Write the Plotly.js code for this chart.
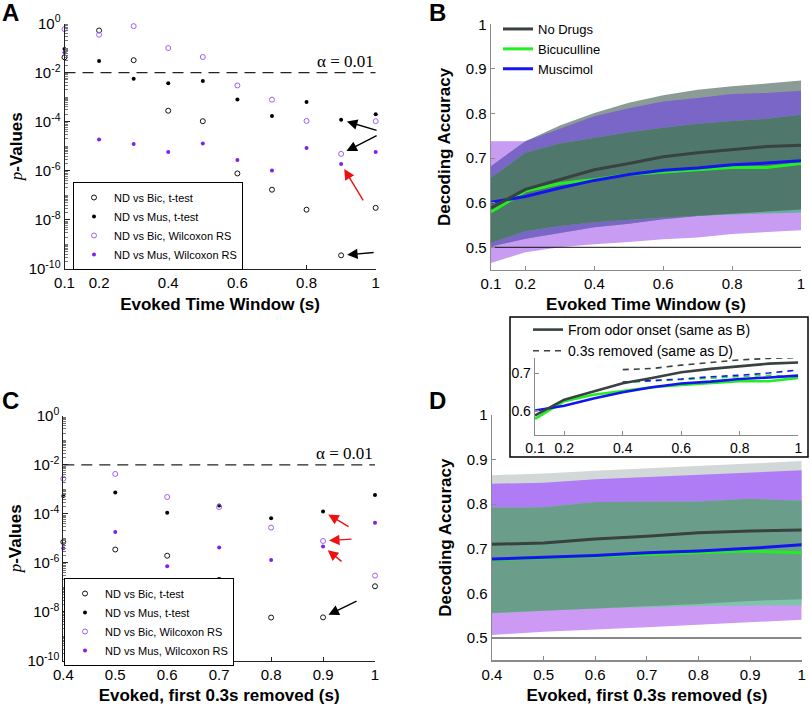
<!DOCTYPE html>
<html><head><meta charset="utf-8">
<script src="https://cdn.plot.ly/plotly-3.0.1.min.js"></script>
<style>html,body{margin:0;padding:0;background:#fff}</style>
</head><body><div id="chart" style="width:810px;height:711px"></div>
<script>
// ---------- Panel A data (p-values) ----------
const xA = [0.1,0.2,0.3,0.4,0.5,0.6,0.7,0.8,0.9,1.0];
const aBicT = [4.2e-2,5.2e-1,3.2e-2,2.8e-4,1.05e-4,7.8e-7,1.7e-7,2.6e-8,3.6e-10,3.1e-8];
const aMusT = [9.1e-2,3.0e-2,5.6e-3,3.7e-3,4.6e-3,8.1e-4,1.7e-4,6.3e-4,1.2e-4,2.0e-4];
const aBicW = [5.9e-1,3.5e-1,7.8e-1,1.0e-1,4.3e-2,3.0e-3,7.9e-4,1.07e-4,4.9e-6,1.05e-4];
const aMusW = [6.6e-2,1.9e-5,1.23e-5,5.9e-6,1.3e-5,2.75e-6,1.02e-6,8.5e-6,1.9e-6,5.9e-6];
// ---------- Panel C data (p-values) ----------
const xC = [0.4,0.5,0.6,0.7,0.8,0.9,1.0];
const cBicT = [7.1e-6,3.5e-6,1.95e-6,2.0e-7,5.8e-9,5.9e-9,1.1e-7];
const cMusT = [5.4e-4,7.4e-4,1.1e-4,2.2e-4,6.6e-5,1.26e-4,5.9e-4];
const cBicW = [2.75e-3,4.3e-3,4.9e-4,1.9e-4,2.75e-5,7.8e-6,3.0e-7];
const cMusW = [3.9e-6,1.8e-5,7.2e-7,4.2e-6,1.3e-6,4.6e-6,4.3e-5];
const alpha = 0.01;
// ---------- Panel B data (decoding accuracy) ----------
const xB = [0.1,0.2,0.3,0.4,0.5,0.6,0.7,0.8,0.9,1.0];
const bND  = [0.588,0.630,0.652,0.674,0.688,0.703,0.712,0.719,0.726,0.729];
const bBic = [0.579,0.626,0.643,0.652,0.663,0.669,0.674,0.679,0.679,0.688];
const bMus = [0.601,0.614,0.633,0.650,0.663,0.673,0.678,0.685,0.689,0.694];
const bNDup  = [0.682,0.738,0.773,0.801,0.824,0.841,0.853,0.861,0.867,0.874];
const bNDlo  = [0.502,0.519,0.532,0.545,0.553,0.563,0.570,0.575,0.580,0.585];
const bBicUp = [0.656,0.712,0.733,0.745,0.758,0.768,0.777,0.783,0.788,0.797];
const bBicLo = [0.510,0.536,0.548,0.556,0.562,0.567,0.571,0.574,0.576,0.578];
const bMusUp = [0.738,0.738,0.766,0.794,0.812,0.827,0.835,0.844,0.846,0.851];
const bMusLo = [0.465,0.489,0.500,0.507,0.512,0.518,0.522,0.530,0.534,0.538];
// ---------- Panel D data ----------
const xD = [0.4,0.5,0.6,0.7,0.8,0.9,1.0];
const dND  = [0.710,0.713,0.722,0.728,0.736,0.740,0.742];
const dBic = [0.676,0.680,0.683,0.687,0.691,0.695,0.691];
const dMus = [0.677,0.681,0.685,0.691,0.695,0.701,0.709];
const dNDup  = [0.865,0.869,0.875,0.880,0.886,0.891,0.897];
const dNDlo  = [0.556,0.562,0.567,0.571,0.576,0.583,0.587];
const dBicUp = [0.792,0.793,0.805,0.805,0.806,0.812,0.808];
const dBicLo = [0.555,0.561,0.566,0.569,0.572,0.573,0.573];
const dMusUp = [0.846,0.848,0.856,0.861,0.865,0.870,0.876];
const dMusLo = [0.507,0.514,0.519,0.524,0.530,0.535,0.541];
const chance = 0.5;

const FONT = 'Liberation Sans, Arial, Helvetica, sans-serif';
const cND = '#394241', cBic = '#22ee22', cMus = '#1414ee';
const purOpen = '#a45ef5', purFill = '#7b22f2';

const traces = [];
function pvals(x, bt, mt, bw, mw, xa, ya, lg) {
  const common = {x: x, mode: 'markers', xaxis: xa, yaxis: ya, cliponaxis: false, legend: lg, hoverinfo: 'skip'};
  traces.push(Object.assign({}, common, {y: bt, name: 'ND vs Bic, t-test', marker: {symbol: 'circle-open', size: 5, color: '#111', line: {width: 1}}}));
  traces.push(Object.assign({}, common, {y: mt, name: 'ND vs Mus, t-test', marker: {symbol: 'circle', size: 4, color: '#000'}}));
  traces.push(Object.assign({}, common, {y: bw, name: 'ND vs Bic, Wilcoxon RS', marker: {symbol: 'circle-open', size: 5, color: purOpen, line: {width: 1}}}));
  traces.push(Object.assign({}, common, {y: mw, name: 'ND vs Mus, Wilcoxon RS', marker: {symbol: 'circle', size: 4, color: purFill}}));
  traces.push({x: [x[0], x[x.length-1]], y: [alpha, alpha], mode: 'lines', xaxis: xa, yaxis: ya, showlegend: false,
    line: {color: '#222', width: 1.2, dash: '11px,7px'}, hoverinfo: 'skip'});
}
function poly(x, up, lo, color, xa, ya) {
  traces.push({x: x.concat(x.slice().reverse()), y: up.concat(lo.slice().reverse()), fill: 'toself',
    fillcolor: color, line: {width: 0}, mode: 'lines', xaxis: xa, yaxis: ya, showlegend: false, hoverinfo: 'skip'});
}
function bands(x, ndU, ndL, biU, biL, muU, muL, col, xa, ya) {
  const mx = (...a) => a[0].map((_, i) => Math.max(...a.map(r => r[i])));
  const mn = (...a) => a[0].map((_, i) => Math.min(...a.map(r => r[i])));
  poly(x, muU, muL, col.mus, xa, ya);
  poly(x, ndU, ndL, col.nd, xa, ya);
  poly(x, mn(ndU, muU), mx(ndL, muL), col.ndmus, xa, ya);
  poly(x, mn(biU, muU), mx(biL, muL), col.bicmus, xa, ya);
  poly(x, mn(ndU, biU, muU), mx(ndL, biL, muL), col.all, xa, ya);
}
function lines(x, nd, bic, mus, xa, ya, lg, show, w, dash, names) {
  const mk = (y, c, n, s) => ({x: x, y: y, mode: 'lines', xaxis: xa, yaxis: ya, legend: lg, name: n, showlegend: s,
    line: {color: c, width: w, dash: dash || 'solid'}, hoverinfo: 'skip'});
  traces.push(mk(bic, cBic, names[1], show[1]));
  traces.push(mk(mus, cMus, names[2], show[2]));
  traces.push(mk(nd, cND, names[0], show[0]));
}
function chanceLine(x, xa, ya) {
  traces.push({x: [x[0], x[x.length-1]], y: [chance, chance], mode: 'lines', xaxis: xa, yaxis: ya, showlegend: false,
    line: {color: '#111', width: 1}, hoverinfo: 'skip'});
}

// A
pvals(xA, aBicT, aMusT, aBicW, aMusW, 'x', 'y', 'legend');
// C
pvals(xC, cBicT, cMusT, cBicW, cMusW, 'x3', 'y3', 'legend2');
// B
bands(xB, bNDup, bNDlo, bBicUp, bBicLo, bMusUp, bMusLo,
  {mus: '#c89cf2', nd: '#8b9c97', ndmus: '#7a66c6', bicmus: '#69ad9c', all: '#4f776c'}, 'x2', 'y2');
chanceLine(xB, 'x2', 'y2');
// legend order: No Drugs, Bicuculline, Muscimol
traces.push({x: [null], y: [null], mode: 'lines', xaxis: 'x2', yaxis: 'y2', legend: 'legend3', name: 'No Drugs', line: {color: cND, width: 3}});
lines(xB, bND, bBic, bMus, 'x2', 'y2', 'legend3', [false, true, true], 3, null, ['No Drugs', 'Bicuculline', 'Muscimol']);
// D
bands(xD, dNDup, dNDlo, dBicUp, dBicLo, dMusUp, dMusLo,
  {mus: '#cc99f5', nd: '#d2d8d8', ndmus: '#b07cf6', bicmus: '#7ec4ac', all: '#6a9e8a'}, 'x4', 'y4');
chanceLine(xD, 'x4', 'y4');
lines(xD, dND, dBic, dMus, 'x4', 'y4', 'legend', [false, false, false], 3, null, ['', '', '']);
// Inset
lines(xD, dND, dBic, dMus, 'x5', 'y5', 'legend4', [true, false, false], 1.6, '6px,5px', ['0.3s removed (same as D)', '', '']);
lines(xB, bND, bBic, bMus, 'x5', 'y5', 'legend4', [true, false, false], 2.6, null, ['From odor onset (same as B)', '', '']);

const W = 810, H = 711;
const px = v => v / W, py = v => 1 - v / H;
const TS = 17;

function logAxisY(dom) {
  const vals = [], txt = [], minor = [];
  for (let k = -10; k <= 0; k += 2) { vals.push(Math.pow(10, k)); txt.push('10<sup>' + k + '</sup>'); }
  for (let k = -10; k < 0; k++) for (let m = 1; m <= 9; m++) if (!(m === 1 && k % 2 === 0)) minor.push(m * Math.pow(10, k));
  return {type: 'log', domain: dom, range: [-10, 0], tickmode: 'array', tickvals: vals, ticktext: txt,
    ticks: 'inside', ticklen: 5, tickcolor: '#222', showline: true, linecolor: '#222', linewidth: 1,
    showgrid: false, zeroline: false, tickfont: {size: 15, color: '#000'},
    minor: {tickvals: minor, ticks: 'inside', ticklen: 3, tickcolor: '#777', tickwidth: 1, showgrid: false},
    title: {text: '<span style="font-family:Liberation Serif;font-style:italic">p</span><b>-Values</b>', font: {size: TS, color: '#000'}, standoff: 1}};
}
function linAxis(dom, range, vals, txt, title, color, standoff) {
  return {domain: dom, range: range, tickmode: 'array', tickvals: vals, ticktext: txt, ticks: 'inside', ticklen: 4,
    tickcolor: color, showline: true, linecolor: color, linewidth: 1.3, showgrid: false, zeroline: false,
    tickfont: {size: 15, color: '#000'},
    title: {text: title ? '<b>' + title + '</b>' : '', font: {size: TS, color: '#000'}, standoff: standoff}};
}
const tB = [0.1,0.2,0.4,0.6,0.8,1], tBt = ['0.1','0.2','0.4','0.6','0.8','1'];
const tD = [0.4,0.5,0.6,0.7,0.8,0.9,1], tDt = ['0.4','0.5','0.6','0.7','0.8','0.9','1'];
const tY = [0.5,0.6,0.7,0.8,0.9,1], tYt = ['0.5','0.6','0.7','0.8','0.9','1'];

const layout = {
  width: W, height: H, margin: {l: 0, r: 0, t: 0, b: 0}, paper_bgcolor: '#fff', plot_bgcolor: 'rgba(0,0,0,0)',
  font: {family: FONT, color: '#000'}, showlegend: true,
  xaxis: linAxis([px(64.5), px(375.7)], [0.1, 1], tB, tBt, 'Evoked Time Window (s)', '#222', 7),
  yaxis: Object.assign(logAxisY([py(269), py(23.5)]), {anchor: 'x'}),
  xaxis3: Object.assign(linAxis([px(63.3), px(375)], [0.4, 1], tD, tDt, 'Evoked, first 0.3s removed (s)', '#222', 7), {anchor: 'y3'}),
  yaxis3: Object.assign(logAxisY([py(660.7), py(416)]), {anchor: 'x3'}),
  xaxis2: Object.assign(linAxis([px(491), px(801)], [0.1, 1], tB, tBt, 'Evoked Time Window (s)', '#8a8a8a', 7), {anchor: 'y2'}),
  yaxis2: Object.assign(linAxis([py(269.6), py(24.3)], [0.45, 1], tY, tYt, 'Decoding Accuracy', '#8a8a8a', 11), {anchor: 'x2'}),
  xaxis4: Object.assign(linAxis([px(492), px(801.7)], [0.4, 1], tD, tDt, 'Evoked, first 0.3s removed (s)', '#8a8a8a', 7), {anchor: 'y4'}),
  yaxis4: Object.assign(linAxis([py(660.3), py(415)], [0.45, 1], tY, tYt, 'Decoding Accuracy', '#8a8a8a', 11), {anchor: 'x4'}),
  xaxis5: Object.assign(linAxis([px(535), px(798.3)], [0.1, 1], tB, tBt, '', '#8a8a8a', 0), {anchor: 'y5', tickfont: {size: 14}}),
  yaxis5: Object.assign(linAxis([py(435), py(358)], [0.536, 0.741], [0.6, 0.7], ['0.6', '0.7'], '', '#8a8a8a', 0), {anchor: 'x5', tickfont: {size: 14}}),
  legend: {x: px(73), y: py(182), xanchor: 'left', yanchor: 'top', bordercolor: '#000', borderwidth: 1, bgcolor: '#fff',
    font: {size: 11}, itemwidth: 30, tracegroupgap: 0},
  legend2: {x: px(64), y: py(578), xanchor: 'left', yanchor: 'top', bordercolor: '#000', borderwidth: 1, bgcolor: '#fff',
    font: {size: 11}, itemwidth: 30, tracegroupgap: 0},
  legend3: {x: px(498), y: py(14), xanchor: 'left', yanchor: 'top', bgcolor: 'rgba(0,0,0,0)', borderwidth: 0,
    font: {size: 13}, itemwidth: 30, tracegroupgap: 0},
  legend4: {x: px(528), y: py(314), xanchor: 'left', yanchor: 'top', bgcolor: 'rgba(0,0,0,0)', borderwidth: 0,
    font: {size: 14}, itemwidth: 30, tracegroupgap: 0, traceorder: 'reversed'},
  shapes: [
    {type: 'rect', xref: 'paper', yref: 'paper', x0: px(510), x1: px(808), y0: py(457), y1: py(317),
      line: {color: '#000', width: 1.5}, fillcolor: 'rgba(0,0,0,0)', layer: 'above'}
  ],
  annotations: []
};
const ann = layout.annotations;
[['A', 10, 12], ['B', 437, 12], ['C', 10, 400], ['D', 437, 400]].forEach(([t, x, y]) => ann.push({
  text: '<b>' + t + '</b>', xref: 'paper', yref: 'paper', x: px(x), y: py(y), showarrow: false,
  font: {size: 24, family: FONT}, xanchor: 'center', yanchor: 'middle'}));
[['x', 'y'], ['x3', 'y3']].forEach(([xa, ya]) => ann.push({
  text: 'α = 0.01', xref: xa, yref: ya, x: 1, y: Math.log10(alpha), xanchor: 'right', yanchor: 'bottom', yshift: 0,
  showarrow: false, font: {family: 'Liberation Serif, DejaVu Serif, serif', size: 17}}));
function arrow(xa, ya, xv, yv, ax, ay, color) {
  ann.push({xref: xa, yref: ya, x: xv, y: Math.log10(yv), ax: ax, ay: ay, text: '', showarrow: true,
    arrowhead: 2, arrowsize: 1.5, arrowwidth: 1.4, arrowcolor: color, standoff: 6});
}
// panel A arrows at x = 0.9
arrow('x', 'y', xA[8], aMusT[8], 37, 11, '#000');
arrow('x', 'y', xA[8], aBicW[8], 37, -19, '#000');
arrow('x', 'y', xA[8], aMusW[8], 23, 38, '#ee1111');
arrow('x', 'y', xA[8], aBicT[8], 34, -3, '#000');
// panel C arrows at x = 0.9
arrow('x3', 'y3', xC[5], cMusT[5], 27, 16, '#ee1111');
arrow('x3', 'y3', xC[5], cBicW[5], 30, -2, '#ee1111');
arrow('x3', 'y3', xC[5], cMusW[5], 20, 16, '#ee1111');
arrow('x3', 'y3', xC[5], cBicT[5], 35, -17, '#000');

Plotly.newPlot('chart', traces, layout, {staticPlot: true, displayModeBar: false});
</script></body></html>
